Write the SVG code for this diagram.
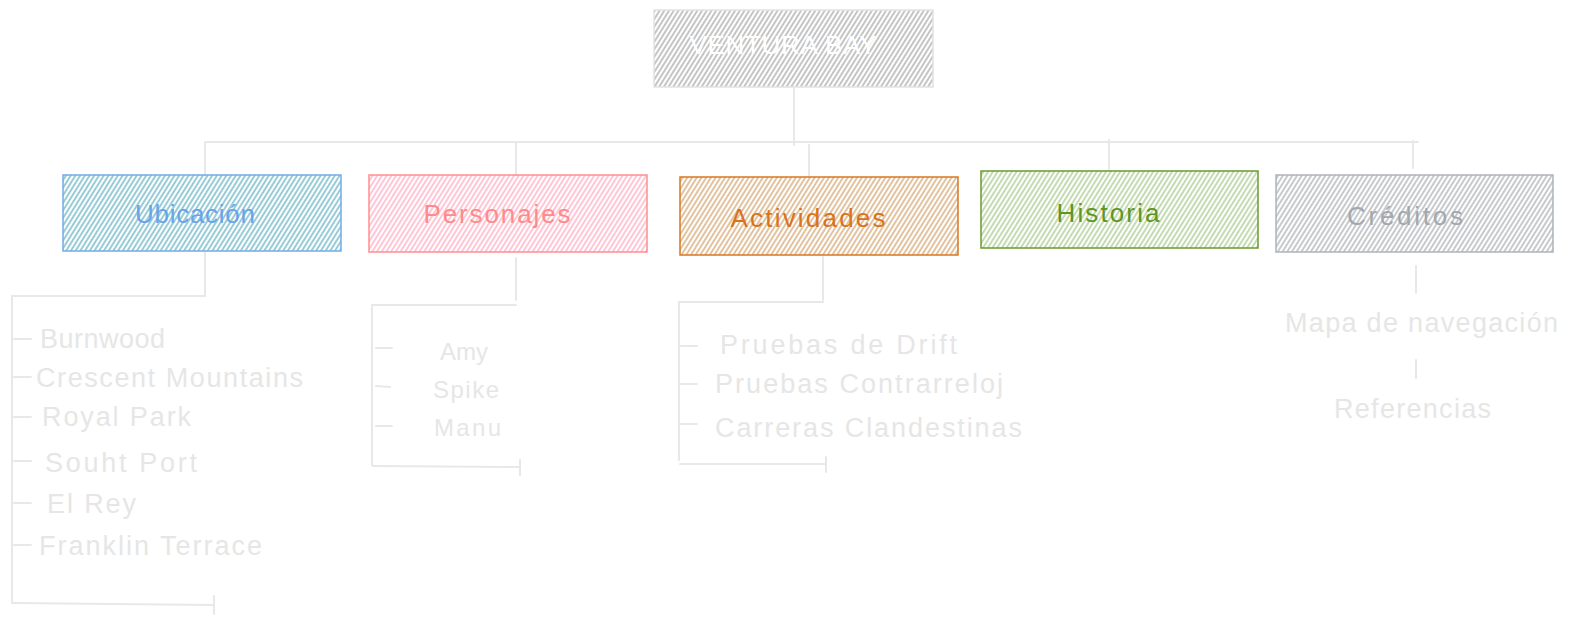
<svg xmlns="http://www.w3.org/2000/svg" width="1569" height="625" viewBox="0 0 1569 625">
<defs>
<pattern id="hGray" width="4" height="10" patternUnits="userSpaceOnUse" patternTransform="rotate(32)"><line x1="1" y1="0" x2="1" y2="10" stroke="#acacac" stroke-width="1.4"/></pattern>
<pattern id="hBlue" width="4" height="10" patternUnits="userSpaceOnUse" patternTransform="rotate(32)"><line x1="1" y1="0" x2="1" y2="10" stroke="#5fb1c2" stroke-width="1.3"/></pattern>
<pattern id="hPink" width="4" height="10" patternUnits="userSpaceOnUse" patternTransform="rotate(32)"><line x1="1" y1="0" x2="1" y2="10" stroke="#ffa8c0" stroke-width="1.3"/></pattern>
<pattern id="hOrange" width="4" height="10" patternUnits="userSpaceOnUse" patternTransform="rotate(32)"><line x1="1" y1="0" x2="1" y2="10" stroke="#d2a26c" stroke-width="1.3"/></pattern>
<pattern id="hGreen" width="4" height="10" patternUnits="userSpaceOnUse" patternTransform="rotate(32)"><line x1="1" y1="0" x2="1" y2="10" stroke="#a5c887" stroke-width="1.3"/></pattern>
<pattern id="hSilver" width="4" height="10" patternUnits="userSpaceOnUse" patternTransform="rotate(32)"><line x1="1" y1="0" x2="1" y2="10" stroke="#a9adb1" stroke-width="1.3"/></pattern>
</defs>
<style>
text{font-family:"Liberation Sans",Arial,sans-serif;}
.lbl{font-size:26px;text-anchor:middle;dominant-baseline:central;}
.item{font-size:27px;fill:#e6e6e6;dominant-baseline:central;}
.small{font-size:24px;}
.line{stroke:#e8e8e8;stroke-width:2;fill:none;stroke-linecap:round;}
</style>
<rect width="1569" height="625" fill="#ffffff"/>
<g id="connectors">
<path class="line" d="M794 88 L794 145"/>
<path class="line" d="M205 142 L1418 142"/>
<path class="line" d="M205 142 L205 175 M516 143 L516 175 M809 145 L809 177 M1109 140 L1109 170 M1413 141 L1413 168"/>
<path class="line" d="M205 252 L205 296 L12 296 L12 601 M12 603 L214 605 M214 596 L214 614"/>
<path class="line" d="M14 339 L31 339 M14 377 L31 377 M14 417 L31 417 M14 461 L31 461 M14 503 L31 503 M14 545 L31 545"/>
<path class="line" d="M516 258 L516 300 M516 305 L372 305 L372 465 M373 466 L520 467 M520 460 L520 475"/>
<path class="line" d="M376 348 L392 348 M376 386 L390 387 M376 426 L392 426"/>
<path class="line" d="M823 257 L823 300 M823 302 L679 302 L679 460 M680 464 L826 464 M826 457 L826 472"/>
<path class="line" d="M681 346 L697 346 M681 384 L697 384 M681 424 L697 424"/>
<path class="line" d="M1416 266 L1416 293 M1416 360 L1416 378"/>
</g>
<g id="title">
<rect x="654" y="10" width="279" height="77" fill="url(#hGray)" stroke="#e2e2e2" stroke-width="1.5"/>
<text x="783" y="45" class="lbl" fill="#ffffff" font-size="21" textLength="187" lengthAdjust="spacing">VENTURA BAY</text>
</g>
<g id="ubicacion">
<rect x="63" y="175" width="278" height="76" fill="url(#hBlue)" stroke="#74abe8" stroke-width="1.5"/>
<text x="195" y="214" class="lbl" fill="#6aa3e8" textLength="120">Ubicación</text>
</g>
<g id="personajes">
<rect x="369" y="175" width="278" height="77" fill="url(#hPink)" stroke="#ff8f8f" stroke-width="1.5"/>
<text x="497" y="214" class="lbl" fill="#ff8a8a" textLength="147">Personajes</text>
</g>
<g id="actividades">
<rect x="680" y="177" width="278" height="78" fill="url(#hOrange)" stroke="#d9771f" stroke-width="1.5"/>
<text x="808" y="218" class="lbl" fill="#d9731a" textLength="155">Actividades</text>
</g>
<g id="historia">
<rect x="981" y="171" width="277" height="77" fill="url(#hGreen)" stroke="#6b9a2c" stroke-width="1.5"/>
<text x="1108" y="213" class="lbl" fill="#5f9623" textLength="103">Historia</text>
</g>
<g id="creditos">
<rect x="1276" y="175" width="277" height="77" fill="url(#hSilver)" stroke="#aeb4ba" stroke-width="1.5"/>
<text x="1405" y="216" class="lbl" fill="#a3a8ad" textLength="116">Créditos</text>
</g>
<g id="ubicacion-items">
<text x="40" y="339" class="item" textLength="125">Burnwood</text>
<text x="36" y="378" class="item" textLength="267">Crescent Mountains</text>
<text x="42" y="417" class="item" textLength="149">Royal Park</text>
<text x="45" y="463" class="item" textLength="152">Souht Port</text>
<text x="47" y="504" class="item" textLength="89">El Rey</text>
<text x="39" y="546" class="item" textLength="223">Franklin Terrace</text>
</g>
<g id="personajes-items">
<text x="440" y="351" class="item small" textLength="48">Amy</text>
<text x="433" y="389" class="item small" textLength="66">Spike</text>
<text x="434" y="427" class="item small" textLength="67">Manu</text>
</g>
<g id="actividades-items">
<text x="720" y="345" class="item" textLength="237">Pruebas de Drift</text>
<text x="715" y="384" class="item" textLength="288">Pruebas Contrarreloj</text>
<text x="715" y="428" class="item" textLength="307">Carreras Clandestinas</text>
</g>
<g id="creditos-items">
<text x="1285" y="323" class="item" textLength="273">Mapa de navegación</text>
<text x="1334" y="409" class="item" textLength="157">Referencias</text>
</g>
</svg>
